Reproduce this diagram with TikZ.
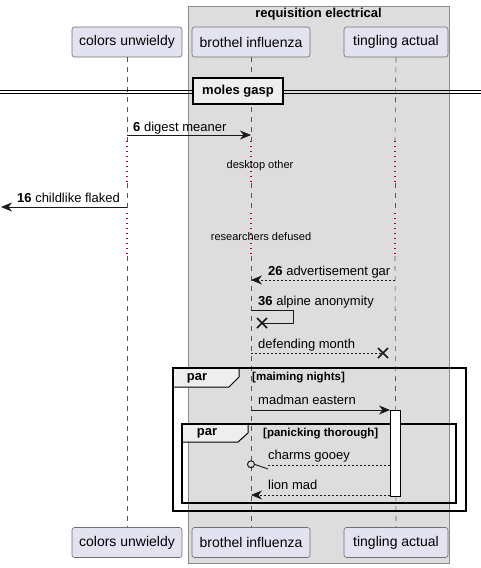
\documentclass[tikz,border=0pt]{standalone}
\usepackage{fontspec}
\setmainfont{Liberation Sans}
\usetikzlibrary{arrows.meta,calc}
\definecolor{partfill}{HTML}{E2E2F0}
\definecolor{partdraw}{HTML}{707070}
\definecolor{boxfill}{HTML}{DDDDDD}
\definecolor{boxdraw}{HTML}{8A8A8A}
\definecolor{tabfill}{HTML}{EEEEEE}
\definecolor{delayred}{HTML}{A80036}
\definecolor{lifegray}{HTML}{555555}
\begin{document}
\begin{tikzpicture}[x=1pt,y=-1pt,
  part/.style={draw=partdraw, fill=partfill, rounded corners=2.5pt, minimum height=30pt, inner sep=0pt, line width=0.6pt, font=\fontsize{14}{16}\selectfont},
  msg/.style={anchor=base west, inner sep=0pt, font=\fontsize{13}{15}\selectfont},
  delaytxt/.style={inner sep=0pt, font=\fontsize{11}{13}\selectfont},
  life/.style={draw=lifegray, line width=0.6pt, dash pattern=on 5pt off 5pt},
  delayline/.style={draw=delayred, line width=1.3pt, dash pattern=on 1.3pt off 3.7pt},
  msgline/.style={line width=0.9pt, black!90},
  retline/.style={line width=0.8pt, black!90, dash pattern=on 2pt off 2pt},
  arr/.tip={Stealth[length=11pt, width=9pt, inset=3.5pt]},
  xmark/.style={line width=1.6pt, black!90},
  frameline/.style={line width=1.5pt, black},
  tab/.style={fill=tabfill, draw=black, line width=1pt},
  bold/.style={inner sep=0pt, font=\fontsize{13}{15}\selectfont\bfseries},
  guard/.style={inner sep=0pt, anchor=west, font=\fontsize{11.5}{13}\selectfont\bfseries}
]
\useasboundingbox (0,0) rectangle (481,568);
% group box
\node[draw=boxdraw, fill=boxfill, line width=0.7pt, minimum width=261pt, minimum height=557pt, inner sep=0pt] (grp) at (318.5,284.5) {};
\node[bold] (grpt) at (318.5,14.5) {requisition electrical};

% participants
\node[part, minimum width=110pt] (cu) at (127,42) {colors unwieldy};
\node[part, minimum width=118pt] (bi) at (251,42) {brothel influenza};
\node[part, minimum width=104pt] (ta) at (396,42) {tingling actual};
\node[part, minimum width=110pt] (cub) at (127,542.5) {colors unwieldy};
\node[part, minimum width=118pt] (bib) at (251,542.5) {brothel influenza};
\node[part, minimum width=104pt] (tab) at (396,542.5) {tingling actual};

% lifelines (with two delay sections)
\foreach \n/\x in {cu/127, bi/251, ta/395}{
  \coordinate (\n1) at (\x,141);
  \coordinate (\n2) at (\x,183);
  \coordinate (\n3) at (\x,213);
  \coordinate (\n4) at (\x,256);
}
\draw[life] (cu.south) -- (cu1); \draw[delayline] (cu1) -- (cu2); \draw[life] (cu2) -- (cu3);
\draw[delayline] (cu3) -- (cu4); \draw[life] (cu4) -- (cub.north);
\draw[life] (bi.south) -- (bi1); \draw[delayline] (bi1) -- (bi2); \draw[life] (bi2) -- (bi3);
\draw[delayline] (bi3) -- (bi4); \draw[life] (bi4) -- (bib.north);
\draw[life] (ta.south) -- (ta1); \draw[delayline] (ta1) -- (ta2); \draw[life] (ta2) -- (ta3);
\draw[delayline] (ta3) -- (ta4); \draw[life] (ta4) -- (tab.north);

% divider
\coordinate (dl1) at (0,90); \coordinate (dr1) at (481,90);
\coordinate (dl2) at (0,93.5); \coordinate (dr2) at (481,93.5);
\draw[line width=1pt] (dl1) -- (dr1);
\draw[line width=1pt] (dl2) -- (dr2);
\node[draw=black, line width=1.6pt, fill=tabfill, minimum width=90pt, minimum height=26pt, inner sep=0pt, font=\fontsize{13}{15}\selectfont\bfseries] (div) at (238,91) {moles gasp};

% message 6
\coordinate (m6a) at (127,135); \coordinate (m6b) at (251,135);
\draw[msgline, -{arr}] (m6a) -- (m6b);
\node[msg] (m6t) at (133,131) {\textbf{6} digest meaner};

% delay texts
\node[delaytxt] (d1) at (260,166) {desktop other};
\node[delaytxt] (d2) at (261,237) {researchers defused};

% message 16
\coordinate (m16a) at (127,207); \coordinate (m16b) at (1,207);
\draw[msgline, -{arr}] (m16a) -- (m16b);
\node[msg] (m16t) at (17,202) {\textbf{16} childlike flaked};

% message 26
\coordinate (m26a) at (395,280); \coordinate (m26b) at (251,280);
\draw[retline, -{arr}] (m26a) -- (m26b);
\node[msg] (m26t) at (268,275) {\textbf{26} advertisement gar};

% message 36 (self, destroyed)
\coordinate (m36a) at (251,310); \coordinate (m36b) at (293,310);
\coordinate (m36c) at (293,323); \coordinate (m36d) at (262,323);
\draw[msgline] (m36a) -- (m36b) -- (m36c) -- (m36d);
\draw[xmark] ($(m36d)+(-5,-5)$) -- ($(m36d)+(5,5)$) ($(m36d)+(-5,5)$) -- ($(m36d)+(5,-5)$);
\node[msg] (m36t) at (258,305) {\textbf{36} alpine anonymity};

% defending month
\coordinate (dma) at (251,353); \coordinate (dmb) at (383,353);
\draw[retline] (dma) -- (dmb);
\draw[xmark] ($(dmb)+(-5,-5)$) -- ($(dmb)+(5,5)$) ($(dmb)+(-5,5)$) -- ($(dmb)+(5,-5)$);
\node[msg] (dmt) at (258,348) {defending month};

% outer par frame
\coordinate (f1a) at (173,368); \coordinate (f1b) at (466,511);
\draw[tab] (173,368) -- (239,368) -- (239,377) -- (229,387) -- (173,387);
\draw[frameline] (f1a) rectangle (f1b);
\node[bold] (p1) at (197,378) {par};
\node[guard] (g1) at (252,378) {[maiming nights]};

% madman eastern
\coordinate (mea) at (251,410); \coordinate (meb) at (390,410);
\draw[msgline, -{arr}] (mea) -- (meb);
\node[msg] (met) at (258,404) {madman eastern};

% inner par frame
\coordinate (f2a) at (182,424); \coordinate (f2b) at (456,503);
\draw[tab] (182,424) -- (248,424) -- (248,433) -- (238,442) -- (182,442);
\draw[frameline] (f2a) rectangle (f2b);
\node[bold] (p2) at (207,433) {par};
\node[guard] (g2) at (263,434) {[panicking thorough]};

% activation
\node[draw=black, fill=white, line width=0.9pt, minimum width=10pt, minimum height=86pt, inner sep=0pt, anchor=north west] (act) at (390,410) {};

% charms gooey
\coordinate (cga) at (390,465); \coordinate (cgb) at (268,465);
\coordinate (cgc) at (255,464.5); \coordinate (cgd) at (268,469);
\draw[retline] (cga) -- (cgb);
\draw[msgline] (cgc) -- (cgd);
\draw[line width=1pt, black!90] (251,464.3) circle (3.5pt);
\node[msg] (cgt) at (268,459) {charms gooey};

% lion mad
\coordinate (lma) at (390,495); \coordinate (lmb) at (251,495);
\draw[retline, -{arr}] (lma) -- (lmb);
\node[msg] (lmt) at (268,489) {lion mad};
\end{tikzpicture}
\end{document}
